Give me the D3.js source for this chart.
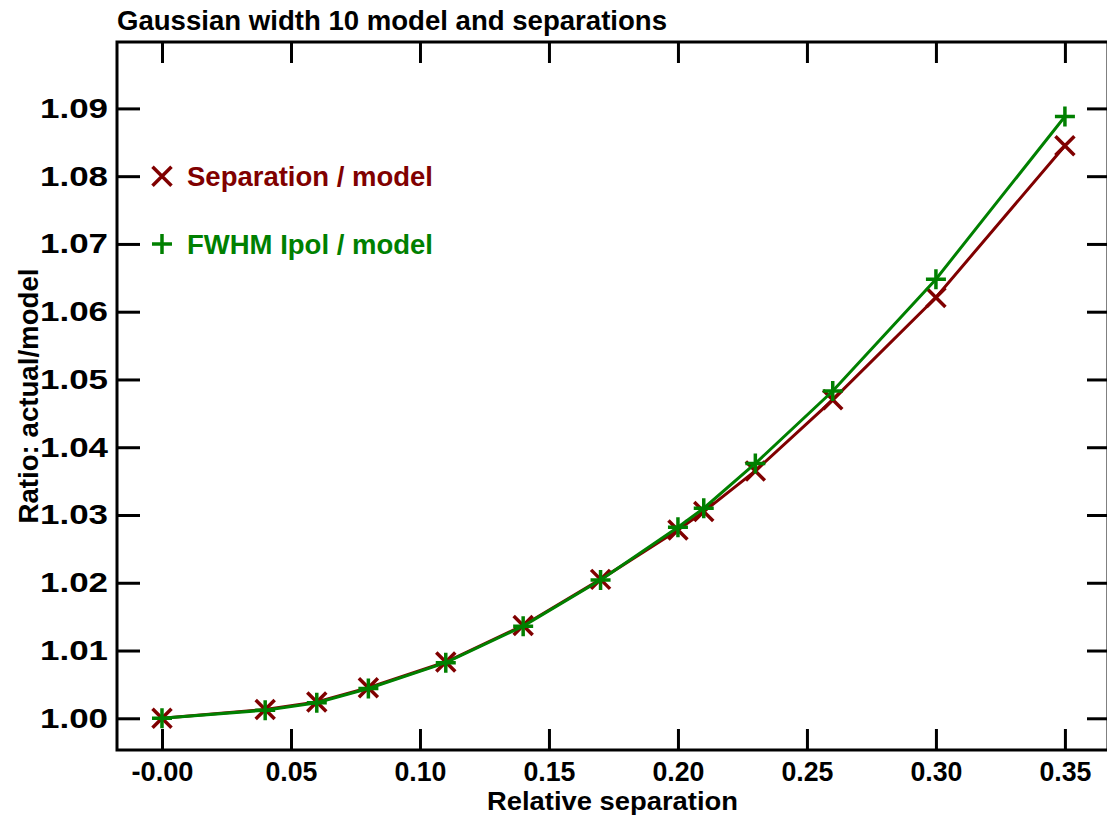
<!DOCTYPE html>
<html>
<head>
<meta charset="utf-8">
<script src="https://cdn.jsdelivr.net/npm/d3@7"></script>
<style>
  body { margin: 0; background: #fff; }
  text { font-family: "Liberation Sans", Arial, sans-serif; font-weight: bold; }
</style>
</head>
<body>
<div id="chart"></div>
<script>
// Data
const separations = [0, 0.04, 0.06, 0.08, 0.11, 0.14, 0.17, 0.20, 0.21, 0.23, 0.26, 0.30, 0.35];
const sepRatio  = [1.0000, 1.0013, 1.0024, 1.0045, 1.0083, 1.0137, 1.0205, 1.0278, 1.0305, 1.0365, 1.0470, 1.0621, 1.0845];
const fwhmRatio = [1.0000, 1.0012, 1.0023, 1.0044, 1.0082, 1.0136, 1.0204, 1.0282, 1.0310, 1.0376, 1.0483, 1.0648, 1.0888];
const xTicks = [0, 0.05, 0.10, 0.15, 0.20, 0.25, 0.30, 0.35];
const yTicks = [1.00, 1.01, 1.02, 1.03, 1.04, 1.05, 1.06, 1.07, 1.08, 1.09];
const seriesNames = ['Separation / model', 'FWHM Ipol / model'];
const seriesColors = ['#800000', '#008000'];

const W = 1107, H = 821;
const plot = { left: 117, right: 1108, top: 42, bottom: 750 };

const svg = d3.select('#chart').append('svg')
    .attr('width', W)
    .attr('height', H);

const x = d3.scaleLinear().domain([-0.01744, 0.3667]).range([plot.left, plot.right]);
const y = d3.scaleLinear().domain([0.99532, 1.0998]).range([plot.bottom, plot.top]);

// Frame
svg.append('rect')
    .attr('x', plot.left).attr('y', plot.top)
    .attr('width', plot.right - plot.left).attr('height', plot.bottom - plot.top)
    .attr('fill', 'none').attr('stroke', '#000').attr('stroke-width', 3);

function styleAxis(g) {
    g.select('.domain').remove();
    g.selectAll('.tick line').attr('stroke', '#000').attr('stroke-width', 3);
}

// Bottom axis (ticks point inward)
const xAxisG = svg.append('g')
    .attr('transform', `translate(0,${plot.bottom})`)
    .call(d3.axisBottom(x).tickValues(xTicks).tickSize(-21).tickPadding(12)
        .tickFormat(d => d === 0 ? '-0.00' : d3.format('.2f')(d)))
    .call(styleAxis);
xAxisG.selectAll('text')
    .attr('fill', '#000')
    .style('font-size', '27px')
    .attr('textLength', d => d === 0 ? 62 : 52)
    .attr('lengthAdjust', 'spacingAndGlyphs');

// Top axis
svg.append('g')
    .attr('transform', `translate(0,${plot.top})`)
    .call(d3.axisTop(x).tickValues(xTicks).tickSize(-21).tickFormat(''))
    .call(styleAxis);

// Left axis
const yAxisG = svg.append('g')
    .attr('transform', `translate(${plot.left},0)`)
    .call(d3.axisLeft(y).tickValues(yTicks).tickSize(-23).tickPadding(9).tickFormat(d3.format('.2f')))
    .call(styleAxis);
yAxisG.selectAll('text')
    .attr('fill', '#000')
    .style('font-size', '28px')
    .attr('textLength', 68)
    .attr('lengthAdjust', 'spacingAndGlyphs');

// Right axis
svg.append('g')
    .attr('transform', `translate(${plot.right},0)`)
    .call(d3.axisRight(y).tickValues(yTicks).tickSize(-21).tickFormat(''))
    .call(styleAxis);

// Title
svg.append('text')
    .attr('x', 117).attr('y', 30)
    .style('font-size', '27px')
    .attr('textLength', 550)
    .attr('lengthAdjust', 'spacingAndGlyphs')
    .text('Gaussian width 10 model and separations');

// Axis labels
svg.append('text')
    .attr('x', (plot.left + plot.right) / 2).attr('y', 810)
    .attr('text-anchor', 'middle')
    .style('font-size', '25px')
    .attr('textLength', 251)
    .attr('lengthAdjust', 'spacingAndGlyphs')
    .text('Relative separation');

svg.append('text')
    .attr('transform', `translate(38,${(plot.top + plot.bottom) / 2}) rotate(-90)`)
    .attr('text-anchor', 'middle')
    .style('font-size', '27px')
    .attr('textLength', 255)
    .attr('lengthAdjust', 'spacingAndGlyphs')
    .text('Ratio: actual/model');

// Lines and markers
const allSeries = [sepRatio, fwhmRatio];
const line = d3.line()
    .x(d => x(d[0]))
    .y(d => y(d[1]));

const crossPath = r => `M${-r},${-r}L${r},${r}M${-r},${r}L${r},${-r}`;
const plusPath = r => `M${-r},0L${r},0M0,${-r}L0,${r}`;
const markers = [crossPath(9.5), plusPath(10)];

allSeries.forEach((vals, i) => {
    const pts = separations.map((s, j) => [s, vals[j]]);
    svg.append('path')
        .datum(pts)
        .attr('d', line)
        .attr('fill', 'none')
        .attr('stroke', seriesColors[i])
        .attr('stroke-width', 3);
    svg.selectAll(`.m${i}`)
        .data(pts)
        .enter()
        .append('path')
        .attr('class', `m${i}`)
        .attr('transform', d => `translate(${x(d[0])},${y(d[1])})`)
        .attr('d', markers[i])
        .attr('stroke', seriesColors[i])
        .attr('stroke-width', 3.5)
        .attr('fill', 'none');
});

// Legend
const legendY = [1.08, 1.07];
seriesNames.forEach((name, i) => {
    const ly = y(legendY[i]);
    svg.append('path')
        .attr('transform', `translate(${x(0)},${ly})`)
        .attr('d', markers[i])
        .attr('stroke', seriesColors[i])
        .attr('stroke-width', 3.5)
        .attr('fill', 'none');
    svg.append('text')
        .attr('x', 187).attr('y', ly)
        .attr('dy', '0.36em')
        .attr('fill', seriesColors[i])
        .style('font-size', '27px')
        .attr('textLength', 246)
        .attr('lengthAdjust', 'spacingAndGlyphs')
        .text(name);
});
</script>
</body>
</html>
